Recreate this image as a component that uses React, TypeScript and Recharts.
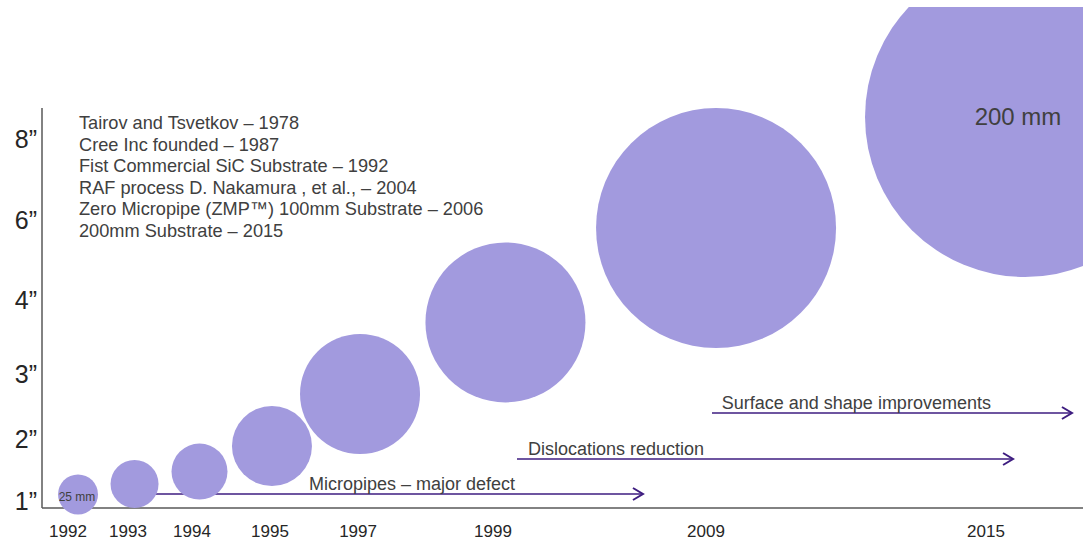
import React from 'react';
import { ScatterChart, Scatter, XAxis, YAxis, ZAxis, ReferenceLine } from 'recharts';

// Wafer generations: year, place along the timeline, height in the climb, diameter (mm)
const years = ['1992', '1993', '1994', '1995', '1997', '1999', '2009', '2015'];
const timelinePos = [3.46, 8.89, 15.13, 22.09, 30.55, 44.52, 64.75, 94.43];
const heightPos = [3.4, 6, 9.1, 15.5, 28.5, 46.4, 70, 97.75];
const diameterMm = [25, 30, 35, 50, 75, 100, 150, 200];
const bubbleLabels = ['25 mm', '', '', '', '', '', '', '200 mm'];

// Axis ticks
const yearTickPos = [2.5, 8.26, 14.41, 21.9, 30.36, 43.32, 63.78, 90.68];
const sizeTickLabels = ['1\u201D', '2\u201D', '3\u201D', '4\u201D', '6\u201D', '8\u201D'];
const sizeTickPos = [1.75, 17.25, 33.5, 52, 72, 92.3];

// Milestones listed in the upper left
const milestones = [
  'Tairov and Tsvetkov \u2013 1978',
  'Cree Inc founded \u2013 1987',
  'Fist Commercial SiC Substrate \u2013 1992',
  'RAF process D. Nakamura , et al., \u2013 2004',
  'Zero Micropipe (ZMP\u2122) 100mm Substrate \u2013 2006',
  '200mm Substrate \u2013 2015',
];

// Improvement phases shown as arrows along the timeline
const phaseLabels = ['Micropipes \u2013 major defect', 'Dislocations reduction', 'Surface and shape improvements'];
const phaseFrom = [10.85, 45.63, 64.36];
const phaseTo = [57.73, 93.28, 98.94];
const phaseLevel = [3.5, 12.25, 23.75];
const phaseLabelAt = [25.65, 46.68, 65.3];

const FONT = "'Liberation Sans', Arial, Helvetica, sans-serif";
const BUBBLE = '#A29ADE';
const ARROW = '#3E1D80';
const AXIS = '#595959';
const TEXT = '#404040';

const bubbles = years.map((year, i) => ({
  year,
  pos: timelinePos[i],
  height: heightPos[i],
  mm: diameterMm[i],
  label: bubbleLabels[i],
}));

const BubbleShape = (p: any) => {
  const r = p.size;
  const label = p.payload?.label;
  const big = r > 100;
  return (
    <g>
      <circle cx={p.cx} cy={p.cy} r={r} fill={BUBBLE} />
      {label ? (
        <text
          x={p.cx + (big ? -7 : -1)}
          y={p.cy + (big ? 2 : 3)}
          textAnchor="middle"
          dominantBaseline="middle"
          fontSize={big ? 24 : 12}
          fill={TEXT}
          fontFamily={FONT}
        >
          {label}
        </text>
      ) : null}
    </g>
  );
};

const makeArrow = (i: number) => (p: any) => {
  const { x1, y1, x2 } = p;
  const labelX = x1 + ((phaseLabelAt[i] - phaseFrom[i]) / (phaseTo[i] - phaseFrom[i])) * (x2 - x1);
  return (
    <g>
      <line x1={x1} y1={y1} x2={x2} y2={y1} stroke={ARROW} strokeWidth={1.6} />
      <polyline
        points={`${x2 - 10},${y1 - 6} ${x2},${y1} ${x2 - 10},${y1 + 6}`}
        fill="none"
        stroke={ARROW}
        strokeWidth={2}
      />
      <text x={labelX} y={y1 - 4} fontSize={18} fill={TEXT} fontFamily={FONT}>
        {phaseLabels[i]}
      </text>
    </g>
  );
};

export default function App() {
  return (
    <div style={{ paddingTop: 7 }}>
      <style>{'body{margin:0;overflow:hidden;background:#fff}'}</style>
      <div style={{ position: 'relative', width: 1083, height: 533, overflow: 'hidden', fontFamily: FONT }}>
        <ScatterChart width={1083} height={533} margin={{ top: 101, right: 0, bottom: 0, left: 0 }}>
          <XAxis
            type="number"
            dataKey="pos"
            domain={[0, 100]}
            ticks={yearTickPos}
            interval={0}
            tickFormatter={(v: number) => years[yearTickPos.indexOf(v)]}
            height={32}
            tickLine={false}
            tickSize={0}
            tickMargin={17}
            axisLine={{ stroke: AXIS, strokeWidth: 1.5 }}
            tick={{ fill: '#262626', fontSize: 17, fontFamily: FONT }}
          />
          <YAxis
            type="number"
            dataKey="height"
            domain={[0, 100]}
            ticks={sizeTickPos}
            interval={0}
            tickFormatter={(v: number) => sizeTickLabels[sizeTickPos.indexOf(v)]}
            width={42}
            tickLine={false}
            tickSize={0}
            tickMargin={5}
            axisLine={{ stroke: AXIS, strokeWidth: 1.5 }}
            tick={{ fill: '#262626', fontSize: 25, fontFamily: FONT }}
          />
          <ZAxis type="number" dataKey="mm" domain={[0, 200]} range={[0, 160]} />
          {phaseLabels.map((_, i) => (
            <ReferenceLine
              key={`phase-${i}`}
              segment={[
                { x: phaseFrom[i], y: phaseLevel[i] },
                { x: phaseTo[i], y: phaseLevel[i] },
              ]}
              stroke={ARROW}
              shape={makeArrow(i)}
            />
          ))}
          <Scatter data={bubbles} isAnimationActive={false} shape={BubbleShape} />
        </ScatterChart>
        <div
          style={{
            position: 'absolute',
            left: 79,
            top: 106,
            fontSize: 18.2,
            lineHeight: '21.6px',
            color: TEXT,
            whiteSpace: 'nowrap',
          }}
        >
          {milestones.map((m) => (
            <div key={m}>{m}</div>
          ))}
        </div>
      </div>
    </div>
  );
}
